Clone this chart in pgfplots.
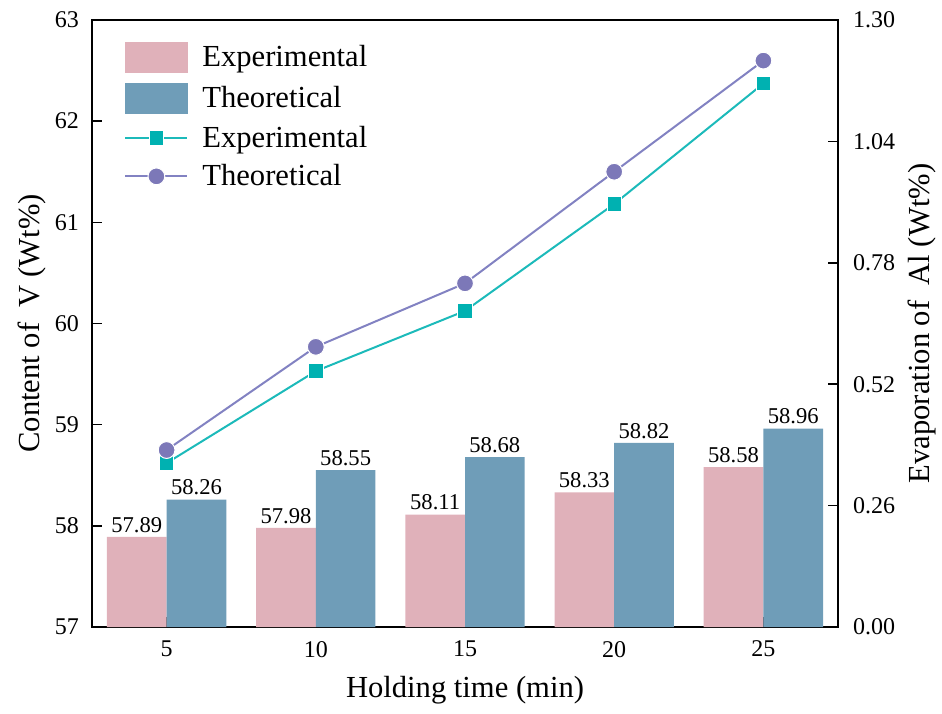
\documentclass[border=0pt]{standalone}
\usepackage{fontspec}
\setmainfont{Liberation Serif}
\usepackage{pgfplots}
\pgfplotsset{compat=1.18}
\definecolor{pinkbar}{HTML}{E0B1BA}
\definecolor{bluebar}{HTML}{6F9DB8}
\definecolor{tealline}{HTML}{1CBABA}
\definecolor{tealmark}{HTML}{00B1B1}
\definecolor{purpline}{HTML}{8282C2}
\definecolor{purpmark}{HTML}{7C78B8}
\pgfplotsset{
  lineleg/.style={legend image code/.code={\draw[mark repeat=2, mark phase=2, ##1] plot coordinates {(0pt,0pt) (15.5pt,0pt) (31pt,0pt)};\path (37pt,0pt);}},
  common/.style={
    scale only axis, width=373pt, height=303.5pt,
    xmin=2.5, xmax=27.5,
    tick align=inside, major tick length=5pt,
    /pgf/number format/assume math mode=true,
    tick label style={font=\fontsize{12}{13}\selectfont},
    label style={font=\fontsize{15.3}{17}\selectfont},
    axis line style={line width=1pt}, every tick/.style={line width=0.8pt, black},
  }
}
\begin{document}
\begin{tikzpicture}
\begin{axis}[common,
  ymin=57, ymax=63, ytick={57,58,...,63},
  xtick={5,10,15,20,25}, xtick pos=left, ytick pos=left,
  xlabel={Holding time (min)},
  ylabel={Content of\ \ V (Wt\%)},
  xlabel style={at={([yshift=-31.5pt]rel axis cs:0.5,0)}, anchor=center},
  ylabel style={at={([xshift=-30pt]rel axis cs:0,0.5)}, anchor=center},
  xticklabel style={yshift=-3.5pt},
  yticklabel style={xshift=-3pt},
  nodes near coords style={font=\fontsize{11.3}{12}\selectfont, anchor=south, inner sep=2pt},
]
\addplot[ybar, bar width=2, bar shift=-1, fill=pinkbar, draw=none,
  nodes near coords={\pgfmathprintnumber[fixed,fixed zerofill,precision=2]{\pgfplotspointmeta}},
  nodes near coords style={xshift=-14.92pt}]
  coordinates {(5,57.89) (10,57.98) (15,58.11) (20,58.33) (25,58.58)};
\addplot[ybar, bar width=2, bar shift=1, fill=bluebar, draw=none,
  nodes near coords={\pgfmathprintnumber[fixed,fixed zerofill,precision=2]{\pgfplotspointmeta}},
  nodes near coords style={xshift=14.92pt}]
  coordinates {(5,58.26) (10,58.55) (15,58.68) (20,58.82) (25,58.96)};
\end{axis}
\begin{axis}[common,
  ymin=0, ymax=1.3, ytick={0,0.26,0.52,0.78,1.04,1.30},
  axis x line=none, axis y line*=right,
  yticklabel style={xshift=4pt, /pgf/number format/.cd, fixed, fixed zerofill, precision=2},
  ylabel={Evaporation of\ \ Al (Wt\%)},
  ylabel style={at={([xshift=42pt]rel axis cs:1,0.5)}, anchor=center, rotate=0},
  legend style={at={(rel axis cs:0,1)}, anchor=north west, xshift=16pt, yshift=-11pt,
    draw=none, fill=none, inner sep=0pt, row sep=5pt,
    font=\fontsize{15.3}{17}\selectfont, cells={anchor=west},
    nodes={inner sep=1pt}},
]
\addlegendimage{area legend, legend image code/.code={\fill[pinkbar] (0pt,-7.5pt) rectangle (31pt,7.5pt);\path (37pt,0pt);}}
\addlegendentry{Experimental}
\addlegendimage{area legend, legend image code/.code={\fill[bluebar] (0pt,-7.5pt) rectangle (31pt,7.5pt);\path (37pt,0pt);}}
\addlegendentry{Theoretical}
\addplot[tealline, line width=1pt, mark=square*, mark size=3.6pt,
  mark options={fill=tealmark, draw=white, line width=0.5pt}, lineleg]
  coordinates {(5,0.351) (10,0.548) (15,0.677) (20,0.906) (25,1.164)};
\addlegendentry{Experimental}
\addplot[purpline, line width=1pt, mark=*, mark size=4.2pt,
  mark options={fill=purpmark, draw=white, line width=0.5pt}, lineleg]
  coordinates {(5,0.379) (10,0.600) (15,0.736) (20,0.975) (25,1.213)};
\addlegendentry{Theoretical}
\end{axis}
\pgfresetboundingbox
\path (-46pt,-43pt) rectangle (425pt,313.5pt);
\end{tikzpicture}
\end{document}
